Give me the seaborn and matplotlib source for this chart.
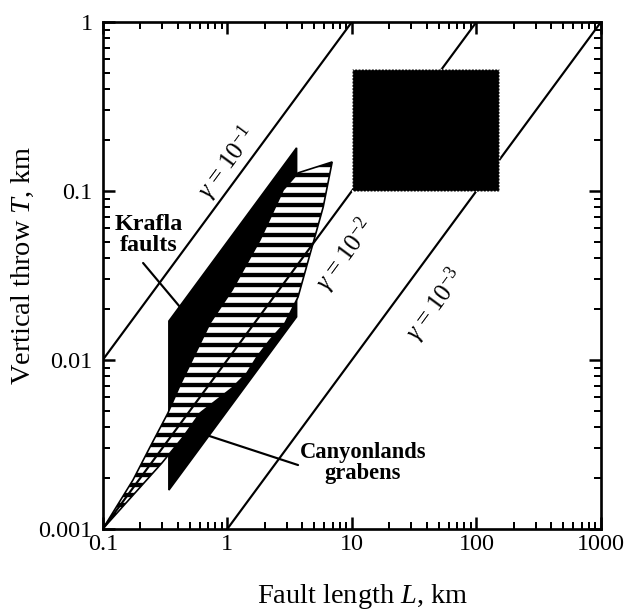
import numpy as np
import pandas as pd
import matplotlib
matplotlib.use("Agg")
import matplotlib.pyplot as plt
import seaborn as sns

# ---- data ----
x_ticks = [0.1, 1, 10, 100, 1000]
x_tick_labels = ["0.1", "1", "10", "100", "1000"]
y_ticks = [0.001, 0.01, 0.1, 1]
y_tick_labels = ["0.001", "0.01", "0.1", "1"]

gamma_values = [1e-1, 1e-2, 1e-3]
gamma_names = [r"$\gamma$ = 10$^{-1}$", r"$\gamma$ = 10$^{-2}$", r"$\gamma$ = 10$^{-3}$"]
gamma_label_L = [1.0, 8.83, 46.7]
gamma_label_T = [0.146, 0.0418, 0.0212]
line_L = [0.1, 1000]

# Krafla faults: length range and throw/length ratio range
krafla_L = [0.34, 3.6]
krafla_gamma = [0.005, 0.05]

# Canyonlands grabens outline
canyon_L = [0.1, 0.175, 0.240, 0.334, 0.418, 0.728, 1.094, 1.83, 2.81, 3.70,
            6.95, 5.89, 4.89, 3.70, 2.91, 2.20, 1.73, 1.44, 1.094, 0.606,
            0.442, 0.299]
canyon_T = [0.001, 0.00195, 0.00306, 0.00486, 0.00711, 0.01656, 0.02596, 0.0513,
            0.1014, 0.128, 0.1485, 0.0804, 0.0492, 0.0236, 0.01656, 0.01313,
            0.01042, 0.00838, 0.00683, 0.00486, 0.0035, 0.00246]

# large box (upper right)
box_L = [10, 152]
box_T = [0.1, 0.53]

# ---- style ----
sns.set_style("ticks")
plt.rcParams["font.family"] = ["Liberation Serif", "DejaVu Serif"]
plt.rcParams["mathtext.fontset"] = "custom"
plt.rcParams["mathtext.rm"] = "Liberation Serif"
plt.rcParams["mathtext.it"] = "Liberation Serif:italic"
plt.rcParams["mathtext.bf"] = "Liberation Serif:bold"
plt.rcParams["hatch.linewidth"] = 2.6
plt.rcParams["text.color"] = "black"
plt.rcParams["axes.labelcolor"] = "black"

dpi = 120
W, H = 635, 613
left, right, top, bottom = 102.7, 601, 22, 529
fig = plt.figure(figsize=(W / dpi, H / dpi), dpi=dpi)
ax = fig.add_axes([left / W, 1 - bottom / H, (right - left) / W, (bottom - top) / H])
ax.set_xscale("log")
ax.set_yscale("log")
ax.set_xlim(0.1, 1000)
ax.set_ylim(0.001, 1)

# gamma lines
rows = []
for g in gamma_values:
    for L in line_L:
        rows.append({"L": L, "T": g * L, "gamma": g})
df_lines = pd.DataFrame(rows)
sns.lineplot(data=df_lines, x="L", y="T", units="gamma", estimator=None,
             color="black", lw=1.3, sort=False, ax=ax, zorder=4, legend=False)

# Krafla parallelogram
kL = [krafla_L[0], krafla_L[1], krafla_L[1], krafla_L[0]]
kT = [krafla_gamma[0] * krafla_L[0], krafla_gamma[0] * krafla_L[1],
      krafla_gamma[1] * krafla_L[1], krafla_gamma[1] * krafla_L[0]]
ax.fill(kL, kT, facecolor="black", edgecolor="black", lw=1, zorder=2)

# Canyonlands hatched polygon
ax.fill(canyon_L, canyon_T, facecolor="white", edgecolor="black", hatch="--",
        lw=1.0, zorder=3)

# Box
bL = [box_L[0], box_L[1], box_L[1], box_L[0]]
bT = [box_T[0], box_T[0], box_T[1], box_T[1]]
ax.fill(bL, bT, facecolor="black", edgecolor="white", lw=0.8, ls=(0, (1, 1.5)),
        zorder=5)

# gamma labels
for name, lx, ty in zip(gamma_names, gamma_label_L, gamma_label_T):
    ax.text(lx, ty, name, rotation=53.6, ha="center", va="center", fontsize=15,
            rotation_mode="anchor", zorder=6, color="black")

# annotations
ax.text(0.236, 0.055, "Krafla\nfaults", fontsize=14.5, fontweight="bold",
        ha="center", va="center", linespacing=1.0, zorder=7, color="black")
ax.plot([0.211, 0.417], [0.0375, 0.0206], color="black", lw=1.3, zorder=7)

ax.text(12.3, 0.00246, "Canyonlands\ngrabens", fontsize=13.5, fontweight="bold",
        ha="center", va="center", linespacing=1.0, zorder=7, color="black")
ax.plot([0.606, 3.7], [0.0037, 0.00239], color="black", lw=1.3, zorder=7)

# axes formatting
ax.set_xticks(x_ticks)
ax.set_xticklabels(x_tick_labels)
ax.set_yticks(y_ticks)
ax.set_yticklabels(y_tick_labels)
ax.tick_params(which="both", direction="in", top=True, right=True,
               labelsize=14.5, colors="black")
ax.tick_params(which="major", length=7, width=1.5)
ax.tick_params(which="minor", length=4, width=1.2)
ax.tick_params(axis="x", which="major", pad=3)
ax.tick_params(axis="y", which="major", pad=6)
for s in ax.spines.values():
    s.set_linewidth(1.6)
    s.set_color("black")
    s.set_visible(True)

ax.set_xlabel("Fault length $L$, km", fontsize=17, color="black")
ax.set_ylabel("Vertical throw $T$, km", fontsize=17, color="black")
ax.xaxis.set_label_coords((363 - left) / (right - left), -(582 - bottom) / (bottom - top))
ax.yaxis.set_label_coords(-(left - 36) / (right - left), (bottom - 265) / (bottom - top))

fig.savefig("out.png", dpi=dpi)
